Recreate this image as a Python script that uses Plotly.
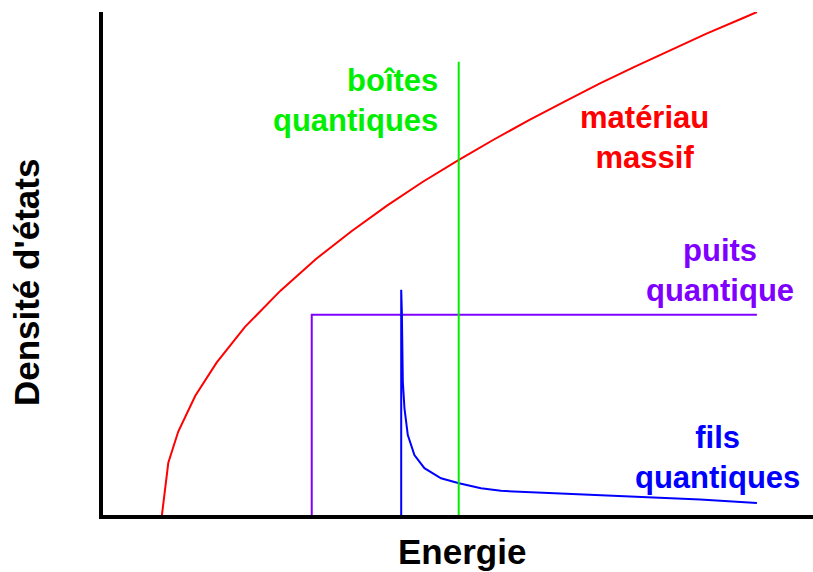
import plotly.graph_objects as go

# Density of states sketch (energy units are arbitrary, 0..10 on both axes)
RED = "#ff0000"
GREEN = "#00ee00"
PURPLE = "#8000ff"
BLUE = "#0000ff"
FONT = "Liberation Sans"

# matériau massif (3D)
massif_x = [0.83, 0.92, 1.06, 1.3, 1.6, 2.0, 2.5, 3.0, 3.5, 4.0, 4.5, 5.0,
            5.5, 6.0, 6.5, 7.0, 7.5, 8.0, 8.5, 9.0, 9.21]
massif_y = [0.0, 1.04, 1.66, 2.37, 3.03, 3.74, 4.46, 5.09, 5.64, 6.15, 6.62, 7.05,
            7.46, 7.85, 8.22, 8.58, 8.92, 9.25, 9.57, 9.87, 10.0]

# puits quantique (2D)
puits_x = [2.94, 2.94, 9.21]
puits_y = [0.0, 3.98, 3.98]

# fils quantiques (1D)
fils_x = [4.2, 4.2, 4.209, 4.223, 4.246, 4.293, 4.386, 4.527, 4.761, 5.014,
          5.323, 5.604, 6.31, 7.01, 7.71, 8.41, 9.21]
fils_y = [0.0, 4.48, 4.06, 2.65, 2.12, 1.59, 1.19, 0.93, 0.73, 0.63,
          0.53, 0.48, 0.44, 0.40, 0.36, 0.31, 0.24]

# boîtes quantiques (0D)
boites_x = [5.01, 5.01]
boites_y = [0.0, 9.01]

fig = go.Figure()
for xs, ys, col in [
    (massif_x, massif_y, RED),
    (puits_x, puits_y, PURPLE),
    (fils_x, fils_y, BLUE),
    (boites_x, boites_y, GREEN),
]:
    fig.add_trace(go.Scatter(x=xs, y=ys, mode="lines", cliponaxis=False,
                             line=dict(color=col, width=2), hoverinfo="skip"))

labels = [
    ("boîtes<br>quantiques", 4.75, 8.25, "right", GREEN),
    ("matériau<br>massif", 7.63, 7.51, "center", RED),
    ("puits<br>quantique", 8.69, 4.87, "center", PURPLE),
    ("fils<br>quantiques", 8.65, 1.15, "center", BLUE),
]
for text, x, y, anchor, col in labels:
    fig.add_annotation(x=x, y=y, text=text, showarrow=False, xanchor=anchor,
                       yanchor="middle", align=anchor,
                       font=dict(family=FONT, size=31, color=col, weight="bold"))

fig.add_annotation(xref="paper", yref="paper", x=0.506, y=0, yshift=-36,
                   text="Energie", showarrow=False, yanchor="middle",
                   font=dict(family=FONT, size=35, color="black", weight="bold"))
fig.add_annotation(xref="paper", yref="paper", x=0, y=0.463, xshift=-77,
                   text="Densité d'états", showarrow=False, textangle=-90,
                   xanchor="center", yanchor="middle",
                   font=dict(family=FONT, size=35, color="black", weight="bold"))

fig.update_layout(
    width=813, height=572,
    margin=dict(l=103, r=0, t=12, b=57),
    paper_bgcolor="white",
    plot_bgcolor="white",
    showlegend=False,
)
fig.update_xaxes(range=[0, 10], showline=True, linecolor="black", linewidth=4,
                 showgrid=False, zeroline=False, showticklabels=False, ticks="")
fig.update_yaxes(range=[0, 10], showline=True, linecolor="black", linewidth=4,
                 showgrid=False, zeroline=False, showticklabels=False, ticks="")

# drop the default page margin so the figure sits at the window's top-left
fig.write_html("out.html", config={"displayModeBar": False},
               post_script="document.body.style.margin='0';")
